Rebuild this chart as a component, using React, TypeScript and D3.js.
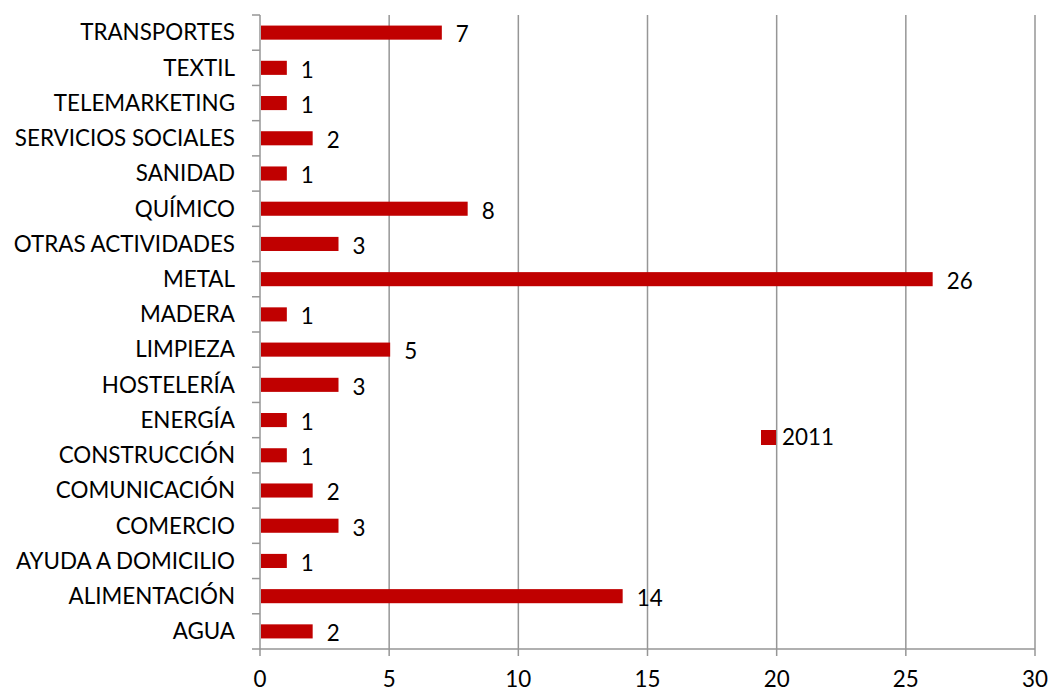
import React, { useEffect, useRef } from 'react'
import * as d3 from 'd3'

// categories bottom to top as in the source sheet
const categories = [
  'AGUA',
  'ALIMENTACIÓN',
  'AYUDA A DOMICILIO',
  'COMERCIO',
  'COMUNICACIÓN',
  'CONSTRUCCIÓN',
  'ENERGÍA',
  'HOSTELERÍA',
  'LIMPIEZA',
  'MADERA',
  'METAL',
  'OTRAS ACTIVIDADES',
  'QUÍMICO',
  'SANIDAD',
  'SERVICIOS SOCIALES',
  'TELEMARKETING',
  'TEXTIL',
  'TRANSPORTES',
]
const values2011 = [2, 14, 1, 3, 2, 1, 1, 3, 5, 1, 26, 3, 8, 1, 2, 1, 1, 7]
const xTicks = [0, 5, 10, 15, 20, 25, 30]
const seriesName = '2011'

export default function App() {
  const svgRef = useRef<SVGSVGElement>(null)

  useEffect(() => {
    const width = 1052
    const height = 693
    const left = 260
    const right = 1035
    const top = 15
    const bottom = 649
    const font = 'Lato, "Open Sans", sans-serif'
    const fontSize = '22.4px'
    const red = '#c00000'
    const gridColor = '#969696'

    const svg = d3.select(svgRef.current)
    svg.selectAll('*').remove()
    svg.attr('width', width).attr('height', height)

    const x = d3.scaleLinear().domain([0, 30]).range([left, right])
    const y = d3
      .scaleBand()
      .domain([...categories].reverse())
      .range([top, bottom])
      .paddingInner(0.6)
      .paddingOuter(0.3)
    const band = d3.scaleBand().domain([...categories].reverse()).range([top, bottom])

    // vertical gridlines
    svg
      .append('g')
      .selectAll('line')
      .data(xTicks.slice(1))
      .enter()
      .append('line')
      .attr('x1', (d) => x(d))
      .attr('x2', (d) => x(d))
      .attr('y1', top)
      .attr('y2', bottom + 7)
      .attr('stroke', gridColor)
      .attr('stroke-width', 1.5)

    // bottom axis line
    svg
      .append('line')
      .attr('x1', left)
      .attr('x2', right)
      .attr('y1', bottom)
      .attr('y2', bottom)
      .attr('stroke', gridColor)
      .attr('stroke-width', 1.5)

    // left axis
    svg
      .append('line')
      .attr('x1', left)
      .attr('x2', left)
      .attr('y1', top)
      .attr('y2', bottom + 7)
      .attr('stroke', gridColor)
      .attr('stroke-width', 1.5)

    const boundaries = categories.map((c) => band(c) as number).concat([bottom])
    svg
      .append('g')
      .selectAll('line')
      .data(boundaries)
      .enter()
      .append('line')
      .attr('x1', left - 8)
      .attr('x2', left)
      .attr('y1', (d) => d)
      .attr('y2', (d) => d)
      .attr('stroke', gridColor)
      .attr('stroke-width', 1.5)

    // x tick labels
    svg
      .append('g')
      .selectAll('text')
      .data(xTicks)
      .enter()
      .append('text')
      .attr('x', (d) => x(d))
      .attr('y', 687)
      .attr('text-anchor', 'middle')
      .style('font-family', font)
      .style('font-size', fontSize)
      .text((d) => d)

    // category labels
    svg
      .append('g')
      .selectAll('text')
      .data(categories)
      .enter()
      .append('text')
      .attr('x', left - 25)
      .attr('y', (d) => (band(d) as number) + band.bandwidth() / 2)
      .attr('dy', '0.35em')
      .attr('text-anchor', 'end')
      .style('font-family', font)
      .style('font-size', fontSize)
      .text((d) => d)

    const data = categories.map((c, i) => ({ cat: c, value: values2011[i] }))

    svg
      .append('g')
      .selectAll('rect')
      .data(data)
      .enter()
      .append('rect')
      .attr('x', x(0) + 1)
      .attr('y', (d) => y(d.cat) as number)
      .attr('width', (d) => x(d.value) - x(0))
      .attr('height', y.bandwidth())
      .attr('fill', red)

    svg
      .append('g')
      .selectAll('text')
      .data(data)
      .enter()
      .append('text')
      .attr('x', (d) => x(d.value) + 15)
      .attr('y', (d) => (y(d.cat) as number) + y.bandwidth() / 2 + 2)
      .attr('dy', '0.35em')
      .style('font-family', font)
      .style('font-size', fontSize)
      .text((d) => d.value)

    // legend
    const lg = svg.append('g').attr('transform', 'translate(761, 430)')
    lg.append('rect').attr('width', 15).attr('height', 15).attr('fill', red)
    lg.append('text')
      .attr('x', 21)
      .attr('y', 7.5)
      .attr('dy', '0.35em')
      .style('font-family', font)
      .style('font-size', fontSize)
      .text(seriesName)
  }, [])

  return (
    <div style={{ position: 'absolute', left: 0, top: 0 }}>
      <svg ref={svgRef} style={{ display: 'block' }} />
    </div>
  )
}
